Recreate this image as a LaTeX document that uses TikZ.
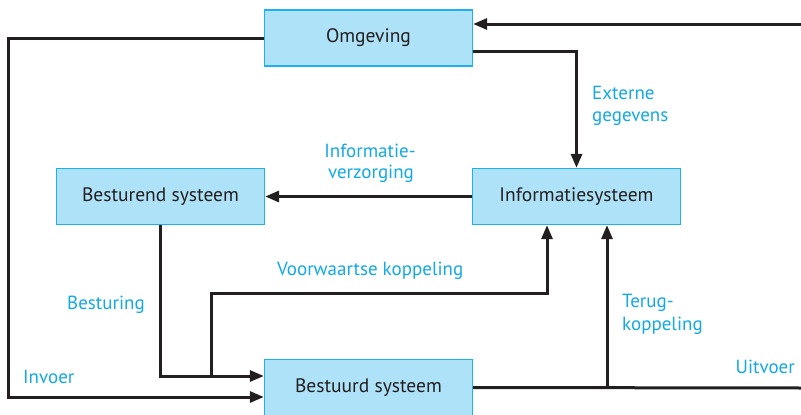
\documentclass[tikz,border=0pt]{standalone}
\usepackage{fontspec}
\setmainfont{PT Sans}
\usetikzlibrary{arrows.meta}
\definecolor{boxfill}{HTML}{AEE2F9}
\definecolor{boxline}{HTML}{1EB1EA}
\definecolor{lblcol}{HTML}{12A9E4}
\definecolor{ink}{HTML}{231F20}
\begin{document}
\begin{tikzpicture}[x=1pt,y=-1pt,
  sysbox/.style={draw=boxline,line width=1.3pt,fill=boxfill,minimum width=208pt,minimum height=56pt,inner sep=0pt,font=\fontsize{19.5}{22}\selectfont,text=ink},
  conn/.style={draw=ink,line width=3pt},
  arr/.style={conn,-{Triangle[length=14pt,width=11pt]}},
  lbl/.style={text=lblcol,font=\fontsize{19}{22}\selectfont,inner sep=0pt}]
\useasboundingbox (0,0) rectangle (801,415);
\node[sysbox] (omg) at (368.5,38) {Omgeving};
\node[sysbox] (bsd) at (160.5,196.5) {Besturend systeem};
\node[sysbox] (info) at (576.5,196.5) {Informatiesysteem};
\node[sysbox] (bst) at (368.5,387.5) {Bestuurd systeem};
\coordinate (inR) at (801,24);
\coordinate (outR) at (801,388);
\coordinate (jFB) at (607,388);
\coordinate (jFF) at (211,376);
% connectors
\draw[arr] (inR) -- ([yshift=14pt]omg.east);
\draw[arr] ([yshift=-13pt]omg.east) -| (info.north);
\draw[arr] (info.west) -- (bsd.east);
\draw[arr] (omg.west) -- (8,38) |- ([yshift=-9.5pt]bst.west);
\draw[arr] (bsd.south) |- ([yshift=11.5pt]bst.west);
\draw[arr] (jFF) -- (211,293) -| ([xshift=-29.5pt]info.south);
\draw[conn] (bst.east) -- (outR);
\draw[arr] (jFB) -- ([xshift=30.5pt]info.south);
% labels
\node[lbl,anchor=base west] (l1) at (592,99) {Externe};
\node[lbl,anchor=base west] (l2) at (592,121) {gegevens};
\node[lbl,anchor=base] (l3) at (370,157) {Informatie-};
\node[lbl,anchor=base] (l4) at (371,178) {verzorging};
\node[lbl,anchor=base west] (l5) at (277,275) {Voorwaartse koppeling};
\node[lbl,anchor=base west] (l6) at (67,309) {Besturing};
\node[lbl,anchor=base west] (l7) at (622,307) {Terug-};
\node[lbl,anchor=base west] (l8) at (622,330) {koppeling};
\node[lbl,anchor=base west] (l9) at (23,383) {Invoer};
\node[lbl,anchor=base east] (l10) at (795,373) {Uitvoer};
\end{tikzpicture}
\end{document}
